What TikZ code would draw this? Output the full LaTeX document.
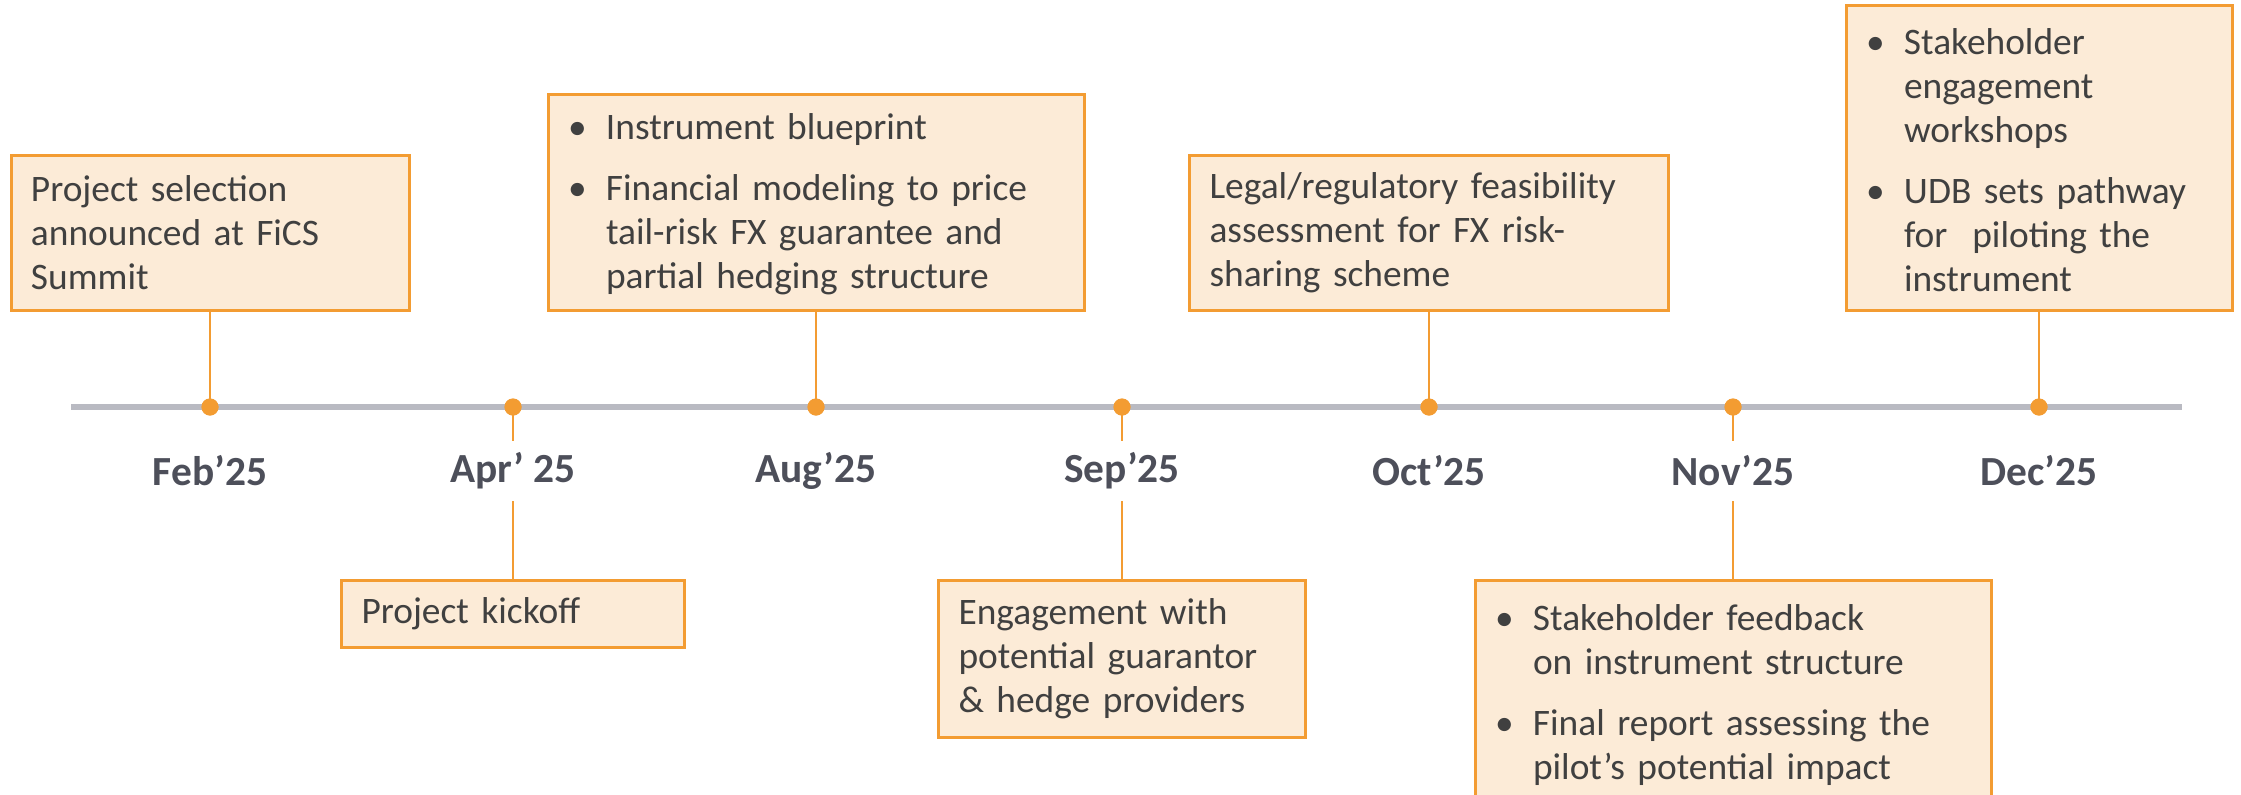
\documentclass[tikz,border=0pt]{standalone}
\usepackage{fontspec}
\setmainfont{Carlito}
\usepackage{tikz}
\definecolor{tlorange}{RGB}{243,156,50}
\definecolor{tlfill}{RGB}{252,235,215}
\definecolor{tlgray}{RGB}{185,186,194}
\definecolor{tltext}{RGB}{64,64,64}
\definecolor{tldate}{RGB}{77,79,90}
\newcommand\bul[1][8.5pt]{\par\vspace{#1}\hangindent=19pt\hangafter=1\noindent\hbox to 19pt{\textbullet\hfil}\ignorespaces}
\newcommand\bulend{\par\vspace{7pt}}

\begin{document}
\begin{tikzpicture}[x=0.5pt,y=-0.5pt,
    event/.style={draw=tlorange,fill=tlfill,line width=1.5pt,inner xsep=10pt,inner ysep=0pt,
        align=left,text=tltext,font=\fontsize{18.7}{22}\selectfont},
    dot/.style={circle,fill=tlorange,inner sep=0pt,minimum size=8.5pt},
    datelbl/.style={fill=white,inner sep=0pt,minimum height=30pt,text=tldate,
        font=\fontsize{20.7}{24}\selectfont\bfseries},
    link/.style={tlorange,line width=1.25pt}]

    \clip (0,0) rectangle (2241,794);
    \fill[white] (0,0) rectangle (2241,794);

    \coordinate (start) at (71,407);
    \coordinate (end) at (2182,407);
    \draw[tlgray,line width=3pt] (start) -- (end);

    \node[event,anchor=south,text width=179pt,minimum height=77.5pt] (b1) at (210,312)
        {Project selection\\ announced at FiCS\\ Summit};
    \node[event,anchor=north,text width=151.5pt,minimum height=33.5pt] (b2) at (513,579)
        {Project kickoff};
    \node[event,anchor=south,text width=248pt,minimum height=108pt] (b3) at (816,312)
        {\bul[0pt] Instrument blueprint
         \bul Financial modeling to price\newline tail-risk FX guarantee and\newline partial hedging structure\bulend};
    \node[event,anchor=north,text width=163.5pt,minimum height=78.5pt] (b4) at (1122,579)
        {Engagement with\\ potential guarantor\\ \& hedge providers};
    \node[event,anchor=south,text width=219.5pt,minimum height=77.5pt] (b5) at (1429,312)
        {Legal/regulatory feasibility\\ assessment for FX risk-\\ sharing scheme};
    \node[event,anchor=north,text width=238pt,minimum height=112pt] (b6) at (1733,579)
        {\bul[0pt] Stakeholder feedback\newline on instrument structure
         \bul Final report assessing the\newline pilot’s potential impact\bulend};
    \node[event,anchor=south,text width=173pt,minimum height=152.5pt] (b7) at (2039,312)
        {\bul[0pt] Stakeholder\newline engagement\newline workshops
         \bul UDB sets pathway\newline for\ \ piloting the\newline instrument\bulend};

    \node[dot] (d1) at (210,407) {};
    \node[dot] (d2) at (513,407) {};
    \node[dot] (d3) at (816,407) {};
    \node[dot] (d4) at (1122,407) {};
    \node[dot] (d5) at (1429,407) {};
    \node[dot] (d6) at (1733,407) {};
    \node[dot] (d7) at (2039,407) {};

    \draw[link] (b1.south) -- (d1.center);
    \draw[link] (d2.center) -- (b2.north);
    \draw[link] (b3.south) -- (d3.center);
    \draw[link] (d4.center) -- (b4.north);
    \draw[link] (b5.south) -- (d5.center);
    \draw[link] (d6.center) -- (b6.north);
    \draw[link] (b7.south) -- (d7.center);
    \foreach \d in {d1,d2,d3,d4,d5,d6,d7}
        \node[dot] at (\d) {};

    \node[datelbl] (l1) at (210,471) {Feb’25};
    \node[datelbl] (l2) at (513,471) {Apr’ 25};
    \node[datelbl] (l3) at (816,471) {Aug’25};
    \node[datelbl] (l4) at (1122,471) {Sep’25};
    \node[datelbl] (l5) at (1429,471) {Oct’25};
    \node[datelbl] (l6) at (1733,471) {Nov’25};
    \node[datelbl] (l7) at (2039,471) {Dec’25};
\end{tikzpicture}
\end{document}
